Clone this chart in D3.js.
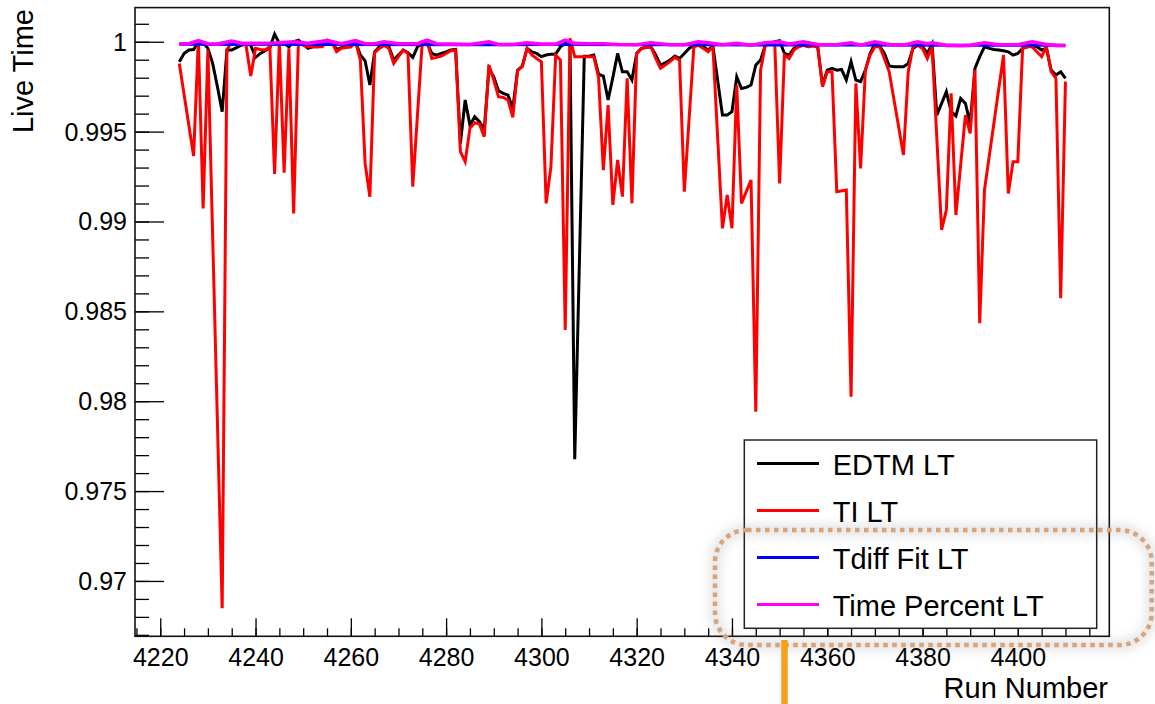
<!DOCTYPE html>
<html>
<head>
<meta charset="utf-8">
<script src="https://cdn.jsdelivr.net/npm/d3@7"></script>
<style>
  html, body { margin: 0; padding: 0; background: #fff; }
  svg { display: block; font-family: "Liberation Sans", Arial, Helvetica, sans-serif; }
</style>
</head>
<body>
<svg id="chart" width="1155" height="704"></svg>
<script>
// Run numbers covered by the live-time scan
const runs = d3.range(4224, 4411);

// EDTM live time per run (null = no point for that run)
const edtmLT = [
  0.99889, 0.99935, 0.99954, 0.99957, 1.00000, 0.99994, 0.99963, 0.99879, 0.99750, 0.99611,
  0.99954, 0.99954, 0.99967, 0.99981, 0.99987, 0.99981, 0.99913, 0.99935, 0.99950, 0.99967,
  1.00043, 0.99991, 0.99991, 0.99972, 1.00000, 1.00009, 0.99987, 0.99963, 0.99972, 0.99972,
  0.99976, 1.00004, 1.00000, 0.99957, 0.99967, 0.99972, 0.99972, 1.00000, 0.99926, 0.99894,
  0.99759, 0.99944, 0.99972, 0.99985, 0.99972, 0.99898, 0.99926, 0.99954, 0.99939, 0.99913,
  0.99972, 0.99991, 0.99994, 0.99935, 0.99926, 0.99935, 0.99944, 0.99954, 0.99957, 0.99435,
  0.99676, 0.99536, 0.99583, 0.99555, 0.99509, 0.99852, 0.99805, 0.99727, 0.99713, 0.99703,
  0.99629, 0.99842, 0.99865, 0.99963, 0.99944, 0.99935, 0.99917, 0.99926, 0.99931, 0.99931,
  0.99972, 0.99991, 0.99991, 0.97677, null,    0.99920, 0.99920, 0.99926, 0.99820, 0.99809,
  0.99676, 0.99802, 0.99935, 0.99833, 0.99833, 0.99787, 0.99935, 0.99963, 0.99968, 0.99972,
  0.99926, 0.99870, 0.99883, 0.99898, 0.99920, 0.99907, 0.99935, 0.99963, 0.99981, 0.99991,
  0.99972, 0.99954, 0.99976, null,    0.99592, 0.99592, 0.99611, 0.99805, 0.99740, 0.99746,
  0.99759, 0.99870, 0.99898, 0.99981, 0.99991, 1.00000, 1.00006, 0.99935, 0.99926, 0.99963,
  0.99976, 0.99981, 0.99972, 0.99981, 0.99972, 0.99759, 0.99842, 0.99852, 0.99842, 0.99846,
  0.99787, 0.99889, 0.99787, 0.99778, 0.99842, 0.99935, 0.99991, 0.99976, 0.99935, 0.99865,
  0.99861, 0.99861, 0.99861, 0.99879, 0.99963, 0.99981, 0.99972, 0.99935, 0.99987, 0.99592,
  null,    0.99722, 0.99611, 0.99587, 0.99685, 0.99657, 0.99546, 0.99852, 0.99917, 0.99972,
  0.99963, 0.99957, 0.99954, 0.99950, 0.99944, 0.99926, 0.99935, 0.99963, 0.99972, 0.99976,
  0.99972, 0.99954, 0.99963, 0.99842, 0.99815, 0.99833, 0.99796
];

// TI live time per run
const tiLT = [
  0.99879, null,    null,    0.99364, 1.00009, 0.99073, 0.99954, null,    null,    0.96848,
  0.99954, 1.00000, 0.99991, 0.99991, 0.99981, 0.99809, 0.99963, 0.99957, 0.99954, 0.99972,
  0.99264, 1.00000, 0.99271, 0.99963, 0.99045, 1.00000, 0.99981, 0.99972, 0.99972, 0.99972,
  0.99972, 1.00009, 1.00000, 0.99944, 0.99963, 0.99968, 0.99972, 1.00000, 0.99898, 0.99323,
  0.99138, 0.99939, 0.99963, 0.99981, 0.99963, 0.99879, 0.99917, 0.99954, 0.99935, 0.99194,
  null,    1.00000, 1.00006, 0.99907, 0.99913, 0.99920, 0.99935, 0.99950, 0.99954, 0.99388,
  0.99333, 0.99518, 0.99549, 0.99542, 0.99472, 0.99870, 0.99787, 0.99694, 0.99690, 0.99676,
  0.99579, 0.99839, 0.99861, 0.99963, 0.99926, 0.99907, 0.99889, 0.99101, 0.99305, 0.99926,
  0.99898, 0.98396, 1.00019, 0.99917, 0.99917, 0.99917, 0.99917, 0.99917, 0.99802, 0.99286,
  0.99648, 0.99092, 0.99342, 0.99138, 0.99796, 0.99101, 0.99935, 0.99963, 0.99968, 0.99972,
  0.99907, 0.99852, 0.99870, 0.99889, 0.99913, 0.99898, 0.99166, null,    0.99972, 0.99981,
  0.99963, 0.99944, 0.99972, null,    0.98962, 0.99147, 0.98962, 0.99759, 0.99101, 0.99166,
  0.99231, 0.97942, 0.99840, 0.99981, 0.99991, 0.99981, 0.99212, 0.99926, 0.99907, 0.99954,
  0.99972, 0.99981, 0.99972, 0.99976, 0.99972, 0.99750, 0.99833, 0.99833, 0.99166, null,
  0.99175, 0.98025, 0.99768, 0.99295, 0.99842, 0.99926, 0.99972, 0.99972, 0.99907, 0.99833,
  null,    null,    0.99370, 0.99833, 0.99972, 0.99981, 0.99963, 0.99907, 0.99972, null,
  0.98953, 0.99064, 0.99713, 0.99036, null,    0.99592, 0.99490, 0.99842, 0.98434, 0.99175,
  null,    null,    null,    0.99926, 0.99156, 0.99333, 0.99333, 0.99963, 0.99972, 0.99972,
  0.99944, 0.99917, 0.99972, 0.99833, 0.99796, 0.98573, 0.99778
];

// Tdiff fit live time (runs and values)
const tdiffRuns = [4224, 4250, 4289, 4300, 4330, 4360, 4390, 4410];
const tdiffLT   = [0.99986, 0.99985, 0.99983, 0.99984, 0.99983, 0.99982, 0.99981, 0.99980];

// Time-percent live time (runs and values)
const timePctRuns = [
  4224, 4226, 4228, 4230, 4232, 4235, 4237, 4240, 4244, 4248, 4251, 4255, 4258, 4261, 4263,
  4265, 4267, 4270, 4274, 4276, 4278, 4281, 4285, 4289, 4291, 4294, 4297, 4300, 4303, 4305,
  4307, 4310, 4313, 4316, 4320, 4323, 4327, 4330, 4333, 4335, 4338, 4341, 4344, 4347, 4350,
  4352, 4355, 4358, 4362, 4365, 4367, 4370, 4373, 4376, 4379, 4381, 4382, 4385, 4388, 4390,
  4393, 4396, 4400, 4403, 4406, 4408, 4410
];
const timePctLT = [
  0.99989, 0.99989, 1.00006, 0.99989, 0.99987, 1.00004, 0.99991, 0.99991, 0.99993, 1.00000, 0.99991, 1.00006, 0.99989, 1.00006, 0.99989,
  0.99989, 1.00000, 0.99989, 0.99989, 1.00009, 0.99989, 0.99987, 0.99985, 1.00000, 0.99985, 0.99985, 0.99994, 0.99987, 0.99987, 1.00009,
  0.99991, 0.99989, 0.99989, 0.99985, 0.99983, 0.99994, 0.99983, 0.99983, 1.00000, 0.99994, 0.99983, 0.99991, 0.99981, 0.99994, 1.00000,
  0.99987, 1.00000, 0.99985, 0.99983, 0.99994, 0.99981, 1.00000, 0.99985, 0.99981, 1.00000, 0.99989, 0.99994, 0.99980, 0.99978, 0.99980,
  0.99994, 0.99983, 0.99983, 1.00000, 0.99985, 0.99980, 0.99978
];

// Axis ticks and labels
const xMajorTicks = [4220, 4240, 4260, 4280, 4300, 4320, 4340, 4360, 4380, 4400];
const yMajorTicks = [0.97, 0.975, 0.98, 0.985, 0.99, 0.995, 1.0];
const yTickLabels = ["0.97", "0.975", "0.98", "0.985", "0.99", "0.995", "1"];

const seriesNames = ["EDTM LT", "TI LT", "Tdiff Fit LT", "Time Percent LT"];
const seriesColors = ["#000000", "#ff0000", "#0000ff", "#ff00ff"];

const svg = d3.select("#chart");
const frame = { left: 135, right: 1109.3, top: 7.6, bottom: 636.3 };

const x = d3.scaleLinear().domain([4214.7, 4419.2]).range([frame.left, frame.right]);
const y = d3.scaleLinear().domain([0.96692, 1.0019]).range([frame.bottom, frame.top]);

svg.append("defs").append("clipPath").attr("id", "plotClip")
  .append("rect")
  .attr("x", frame.left).attr("y", frame.top)
  .attr("width", frame.right - frame.left).attr("height", frame.bottom - frame.top);

// Axes (ticks point into the frame)
const fontFamily = '"Liberation Sans", Arial, Helvetica, sans-serif';

const xMinor = svg.append("g").attr("transform", `translate(0,${frame.bottom})`)
  .call(d3.axisBottom(x).tickValues(d3.range(4215, 4420, 5)).tickSize(-8).tickFormat(""));
const xMajor = svg.append("g").attr("transform", `translate(0,${frame.bottom})`)
  .call(d3.axisBottom(x).tickValues(xMajorTicks).tickSize(-18).tickPadding(12).tickFormat(d3.format("d")));

const yMinor = svg.append("g").attr("transform", `translate(${frame.left},0)`)
  .call(d3.axisLeft(y).tickValues(d3.range(967, 1002).map(v => v / 1000)).tickSize(-14).tickFormat(""));
const yMajor = svg.append("g").attr("transform", `translate(${frame.left},0)`)
  .call(d3.axisLeft(y).tickValues(yMajorTicks).tickSize(-29).tickPadding(8)
    .tickFormat((d, i) => yTickLabels[i]));

[xMinor, xMajor, yMinor, yMajor].forEach(g => {
  g.select(".domain").remove();
  g.selectAll(".tick line").attr("stroke", "#000").attr("stroke-width", 1.3);
  g.selectAll(".tick text").attr("fill", "#000").attr("font-size", 25).attr("font-family", fontFamily);
});
yMajor.selectAll(".tick text").attr("dy", "0.34em");

// Frame
svg.append("rect")
  .attr("x", frame.left).attr("y", frame.top)
  .attr("width", frame.right - frame.left).attr("height", frame.bottom - frame.top)
  .attr("fill", "none").attr("stroke", "#111").attr("stroke-width", 1.6);

// Series lines
const plot = svg.append("g").attr("clip-path", "url(#plotClip)");
const line = d3.line().x(d => x(d[0])).y(d => y(d[1]));

function pairs(xs, ys) {
  return xs.map((r, i) => [r, ys[i]]).filter(d => d[1] !== null);
}

const seriesData = [
  pairs(runs, edtmLT),
  pairs(runs, tiLT),
  pairs(tdiffRuns, tdiffLT),
  pairs(timePctRuns, timePctLT)
];
const seriesWidths = [3, 3, 3, 3.6];

seriesData.forEach((data, i) => {
  plot.append("path")
    .datum(data)
    .attr("d", line)
    .attr("fill", "none")
    .attr("stroke", seriesColors[i])
    .attr("stroke-width", seriesWidths[i])
    .attr("stroke-linejoin", "miter")
    .attr("stroke-miterlimit", 4);
});

// Axis titles
svg.append("text")
  .attr("transform", "translate(33,9) rotate(-90)")
  .attr("text-anchor", "end")
  .attr("font-size", 29)
  .attr("fill", "#000")
  .text("Live Time");

svg.append("text")
  .attr("x", 1108).attr("y", 698)
  .attr("text-anchor", "end")
  .attr("font-size", 29)
  .attr("fill", "#000")
  .text("Run Number");

// Legend
const legend = svg.append("g");
legend.append("rect")
  .attr("x", 744.3).attr("y", 440).attr("width", 352.4).attr("height", 188.3)
  .attr("fill", "#fff").attr("stroke", "#222").attr("stroke-width", 1.5);

const rowY = [463.5, 510.5, 557.5, 604.5];
seriesNames.forEach((name, i) => {
  legend.append("line")
    .attr("x1", 757).attr("x2", 819).attr("y1", rowY[i]).attr("y2", rowY[i])
    .attr("stroke", seriesColors[i]).attr("stroke-width", 3);
  legend.append("text")
    .attr("x", 832.7).attr("y", rowY[i] + 11)
    .attr("font-size", 29).attr("fill", "#000")
    .text(name);
});

// Highlight markings: dotted rounded outline around the last two legend rows and a marker bar
const defs = svg.select("defs");
defs.append("filter").attr("id", "soft").attr("x", "-10%").attr("y", "-30%").attr("width", "120%").attr("height", "160%")
  .append("feGaussianBlur").attr("stdDeviation", 5);

const hl = { x: 715, y: 530, w: 436.7, h: 115, r: 32 };
svg.append("rect")
  .attr("x", hl.x).attr("y", hl.y).attr("width", hl.w).attr("height", hl.h)
  .attr("rx", hl.r).attr("ry", hl.r)
  .attr("fill", "none").attr("stroke", "#777").attr("stroke-opacity", 0.18).attr("stroke-width", 12)
  .attr("filter", "url(#soft)");
svg.append("rect")
  .attr("x", hl.x).attr("y", hl.y).attr("width", hl.w).attr("height", hl.h)
  .attr("rx", hl.r).attr("ry", hl.r)
  .attr("fill", "none").attr("stroke", "#d8a27a").attr("stroke-width", 4.5)
  .attr("stroke-dasharray", "4.5 4.5");

svg.append("line")
  .attr("x1", 784.5).attr("x2", 784.5).attr("y1", 640).attr("y2", 704)
  .attr("stroke", "#f7a01c").attr("stroke-width", 6.5);
</script>
</body>
</html>
